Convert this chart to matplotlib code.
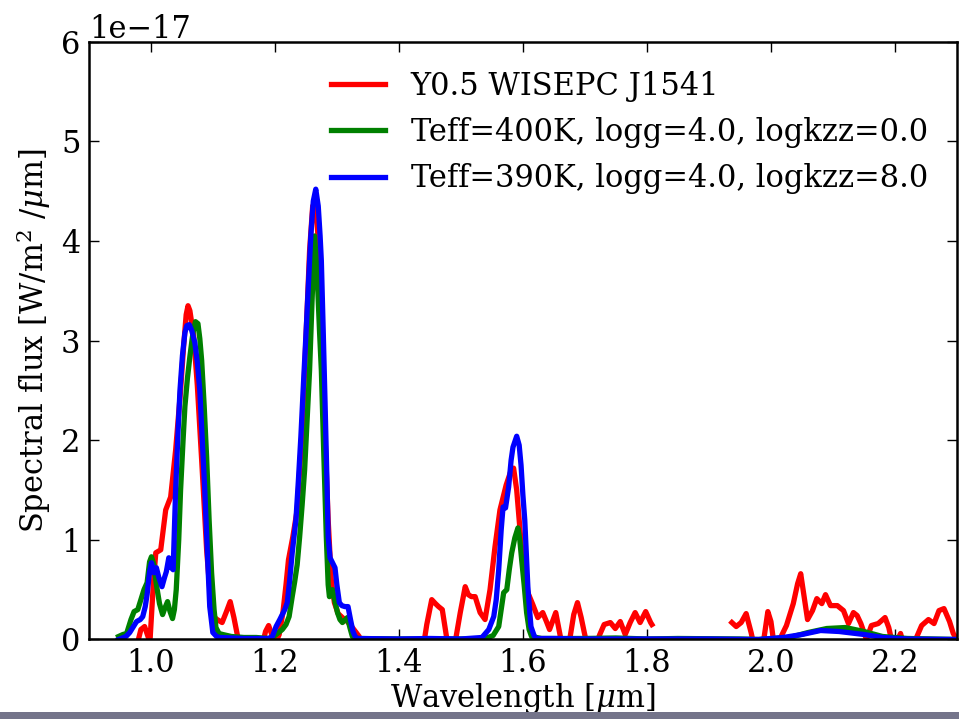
"""
Near-infrared spectrum of a Y dwarf compared with two model atmospheres.
"""

import numpy as np
import matplotlib.pyplot as plt
from matplotlib.patches import Rectangle

# Observed spectrum (units of 1e-17 W/m^2/um); NaN marks the telluric gap
obs_wave = [0.970, 0.978, 0.984, 0.990, 0.996, 0.999, 1.004, 1.008, 1.016, 1.024,
            1.032, 1.040, 1.048, 1.053, 1.057, 1.060, 1.063, 1.069, 1.075, 1.082,
            1.090, 1.097, 1.103, 1.107, 1.115, 1.122, 1.128, 1.134, 1.140, 1.146,
            1.180, 1.185, 1.190, 1.195, 1.200, 1.207, 1.213, 1.218, 1.222, 1.229,
            1.236, 1.244, 1.250, 1.256, 1.261, 1.265, 1.269, 1.274, 1.280, 1.286,
            1.291, 1.296, 1.302, 1.309, 1.317, 1.325, 1.336, 1.342, 1.440, 1.445,
            1.453, 1.459, 1.464, 1.470, 1.477, 1.483, 1.491, 1.499, 1.507, 1.512,
            1.517, 1.523, 1.531, 1.539, 1.547, 1.555, 1.563, 1.573, 1.580, 1.585,
            1.590, 1.596, 1.600, 1.608, 1.616, 1.624, 1.632, 1.638, 1.643, 1.653,
            1.661, 1.667, 1.675, 1.682, 1.688, 1.694, 1.699, 1.705, 1.718, 1.724,
            1.731, 1.741, 1.749, 1.757, 1.765, 1.773, 1.781, 1.789, 1.798, 1.806,
            1.808, 1.870, 1.937, 1.944, 1.952, 1.960, 1.968, 1.974, 1.988, 1.995,
            2.000, 2.005, 2.013, 2.018, 2.025, 2.036, 2.043, 2.048, 2.053, 2.059,
            2.067, 2.074, 2.082, 2.088, 2.096, 2.107, 2.117, 2.125, 2.133, 2.139,
            2.145, 2.154, 2.162, 2.173, 2.184, 2.190, 2.196, 2.203, 2.209, 2.214,
            2.229, 2.234, 2.243, 2.254, 2.263, 2.271, 2.279, 2.288, 2.294, 2.300,
            2.310]
obs_flux = [-0.10, -0.05, 0.10, 0.13, 0.02, 0.02, 0.55, 0.87, 0.90, 1.30,
            1.43, 1.90, 2.50, 2.95, 3.26, 3.35, 3.30, 3.05, 2.55, 1.80,
            0.90, 0.35, 0.22, 0.20, 0.17, 0.28, 0.38, 0.22, 0.03, -0.10,
            -0.05, 0.08, 0.14, 0.05, -0.05, 0.05, 0.27, 0.55, 0.80, 1.03,
            1.30, 2.10, 3.00, 3.90, 4.35, 4.38, 4.10, 3.30, 2.20, 1.20,
            0.60, 0.37, 0.26, 0.22, 0.18, 0.12, 0.03, -0.10, -0.05, 0.15,
            0.40, 0.36, 0.33, 0.30, 0.02, -0.05, -0.02, 0.27, 0.53, 0.45,
            0.43, 0.43, 0.27, 0.20, 0.50, 0.93, 1.30, 1.55, 1.68, 1.72,
            1.50, 1.05, 0.75, 0.47, 0.35, 0.22, 0.27, 0.18, 0.10, 0.27,
            0.01, -0.10, -0.02, 0.25, 0.37, 0.22, 0.07, -0.10, -0.05, 0.05,
            0.15, 0.17, 0.11, 0.18, 0.05, 0.17, 0.27, 0.17, 0.28, 0.17,
            0.15, np.nan, 0.17, 0.13, 0.17, 0.26, 0.07, -0.10, -0.02, 0.28,
            0.18, -0.05, -0.02, 0.05, 0.14, 0.36, 0.56, 0.66, 0.45, 0.20,
            0.29, 0.41, 0.36, 0.45, 0.34, 0.34, 0.29, 0.16, 0.27, 0.24,
            0.16, 0.00, 0.14, 0.16, 0.22, 0.12, -0.05, -0.02, 0.06, -0.05,
            -0.05, 0.01, 0.14, 0.20, 0.16, 0.29, 0.31, 0.18, 0.06, 0.00,
            -0.05]

# Model: Teff=400K, logg=4.0, logkzz=0.0
mod1_wave = [0.948, 0.955, 0.961, 0.968, 0.973, 0.979, 0.984, 0.989, 0.994, 0.998,
             1.001, 1.005, 1.009, 1.014, 1.019, 1.023, 1.027, 1.031, 1.035, 1.038,
             1.041, 1.045, 1.048, 1.052, 1.055, 1.059, 1.063, 1.068, 1.072, 1.076,
             1.079, 1.082, 1.086, 1.090, 1.094, 1.098, 1.102, 1.105, 1.110, 1.116,
             1.130, 1.150, 1.170, 1.190, 1.196, 1.204, 1.212, 1.218, 1.223, 1.228,
             1.232, 1.236, 1.240, 1.244, 1.248, 1.252, 1.256, 1.260, 1.264, 1.268,
             1.272, 1.275, 1.279, 1.283, 1.286, 1.288, 1.293, 1.297, 1.301, 1.305,
             1.309, 1.317, 1.321, 1.325, 1.335, 1.400, 1.500, 1.540, 1.552, 1.561,
             1.565, 1.569, 1.574, 1.578, 1.582, 1.587, 1.592, 1.595, 1.598, 1.602,
             1.606, 1.610, 1.614, 1.630, 1.700, 1.750, 1.800, 1.850, 1.950, 1.980,
             2.030, 2.060, 2.090, 2.120, 2.150, 2.180, 2.220, 2.300]
mod1_flux = [0.03, 0.05, 0.06, 0.20, 0.28, 0.30, 0.40, 0.50, 0.57, 0.78,
             0.83, 0.75, 0.55, 0.36, 0.25, 0.32, 0.38, 0.28, 0.21, 0.30,
             0.50, 1.00, 1.50, 2.00, 2.34, 2.62, 2.84, 3.08, 3.19, 3.17,
             3.02, 2.80, 2.35, 1.83, 1.20, 0.67, 0.30, 0.12, 0.06, 0.05,
             0.03, 0.02, 0.02, 0.01, 0.02, 0.06, 0.10, 0.15, 0.23, 0.43,
             0.58, 0.75, 1.03, 1.35, 1.70, 2.20, 2.70, 3.40, 4.05, 3.70,
             3.10, 2.70, 1.85, 1.03, 0.55, 0.43, 0.50, 0.38, 0.27, 0.20,
             0.17, 0.22, 0.12, 0.03, 0.01, 0.005, 0.005, 0.01, 0.04, 0.13,
             0.30, 0.47, 0.50, 0.70, 0.87, 1.02, 1.12, 1.00, 0.80, 0.55,
             0.27, 0.10, 0.03, 0.01, 0.01, 0.015, 0.005, 0.01, 0.005, 0.00,
             0.02, 0.07, 0.11, 0.12, 0.08, 0.03, 0.01, 0.00]

# Model: Teff=390K, logg=4.0, logkzz=8.0
mod2_wave = [0.948, 0.960, 0.966, 0.972, 0.977, 0.983, 0.987, 0.991, 0.994, 0.998,
             1.001, 1.005, 1.009, 1.013, 1.018, 1.022, 1.025, 1.029, 1.033, 1.036,
             1.040, 1.044, 1.047, 1.051, 1.055, 1.058, 1.062, 1.066, 1.071, 1.075,
             1.079, 1.083, 1.087, 1.091, 1.095, 1.100, 1.106, 1.111, 1.150, 1.190,
             1.196, 1.202, 1.208, 1.212, 1.216, 1.220, 1.224, 1.228, 1.234, 1.238,
             1.242, 1.246, 1.250, 1.254, 1.258, 1.262, 1.266, 1.270, 1.273, 1.275,
             1.278, 1.281, 1.284, 1.286, 1.289, 1.293, 1.297, 1.300, 1.304, 1.308,
             1.313, 1.318, 1.322, 1.326, 1.331, 1.400, 1.450, 1.500, 1.534, 1.545,
             1.553, 1.557, 1.561, 1.565, 1.568, 1.572, 1.577, 1.581, 1.584, 1.590,
             1.594, 1.597, 1.600, 1.603, 1.606, 1.608, 1.611, 1.613, 1.618, 1.621,
             1.650, 1.700, 1.800, 1.900, 1.980, 2.020, 2.050, 2.080, 2.110, 2.150,
             2.180, 2.220, 2.300]
mod2_flux = [0.00, 0.03, 0.07, 0.13, 0.18, 0.20, 0.23, 0.33, 0.45, 0.68,
             0.77, 0.67, 0.72, 0.62, 0.53, 0.62, 0.68, 0.82, 0.72, 0.70,
             1.50, 2.10, 2.50, 2.85, 3.08, 3.15, 3.16, 3.10, 2.98, 2.78,
             2.50, 2.00, 1.50, 0.90, 0.33, 0.07, 0.03, 0.02, 0.01, 0.01,
             0.03, 0.13, 0.20, 0.25, 0.30, 0.37, 0.60, 0.87, 1.20, 1.60,
             2.04, 2.55, 3.04, 3.55, 4.05, 4.40, 4.52, 4.35, 4.05, 3.80,
             3.10, 2.37, 1.60, 1.03, 0.82, 0.77, 0.72, 0.55, 0.37, 0.34,
             0.33, 0.33, 0.20, 0.08, 0.01, 0.005, 0.01, 0.005, 0.02, 0.10,
             0.23, 0.40, 0.70, 1.10, 1.33, 1.32, 1.53, 1.80, 1.93, 2.04,
             1.95, 1.75, 1.45, 1.20, 0.80, 0.53, 0.28, 0.13, 0.04, 0.01,
             0.01, 0.005, 0.005, 0.005, 0.00, 0.02, 0.05, 0.09, 0.08, 0.05,
             0.02, 0.005, 0.00]

labels = ['Y0.5 WISEPC J1541',
          'Teff=400K, logg=4.0, logkzz=0.0',
          'Teff=390K, logg=4.0, logkzz=8.0']
colors = ['red', 'green', 'blue']
SCALE = 1e-17
FS = 22

plt.rcParams['font.family'] = ['DejaVu Serif']
plt.rcParams['mathtext.fontset'] = 'dejavuserif'
plt.rcParams['font.size'] = FS
plt.rcParams['axes.unicode_minus'] = True

fig = plt.figure(figsize=(9.59, 7.19), dpi=100)
ax = fig.add_axes([0.0926, 0.1106, 0.9053, 0.8314])

series = [(obs_wave, obs_flux), (mod1_wave, mod1_flux), (mod2_wave, mod2_flux)]
for (w, f), lab, c in zip(series, labels, colors):
    ax.plot(w, np.array(f) * SCALE, color=c, lw=3.8, label=lab)

ax.set_xlim(0.9, 2.3)
ax.set_ylim(0, 6e-17)
ax.set_xticks([1.0, 1.2, 1.4, 1.6, 1.8, 2.0, 2.2])
ax.set_yticks(np.arange(0, 7) * SCALE)
ax.ticklabel_format(axis='y', style='sci', scilimits=(0, 0))
ax.tick_params(direction='in', length=7, width=1, top=True, right=True,
               labelsize=FS)
ax.tick_params(axis='x', pad=6)
ax.tick_params(axis='y', pad=6)
for sp in ax.spines.values():
    sp.set_linewidth(1.8)

ax.set_xlabel(r'Wavelength [$\mu$m]', fontsize=FS, labelpad=1.5)
ax.set_ylabel(r'Spectral flux [W/m$^2$ /$\mu$m]', fontsize=FS, labelpad=6)

ax.legend(loc='upper right', frameon=False, fontsize=FS, handlelength=1.75,
          handletextpad=0.85, labelspacing=0.5, borderaxespad=0.55)

# thin grey strip along the bottom edge
fig.add_artist(Rectangle((0, 0), 1, 7 / 719, transform=fig.transFigure,
                         facecolor='#74748a', edgecolor='none'))

fig.savefig('out.png', dpi=100, facecolor='white')
